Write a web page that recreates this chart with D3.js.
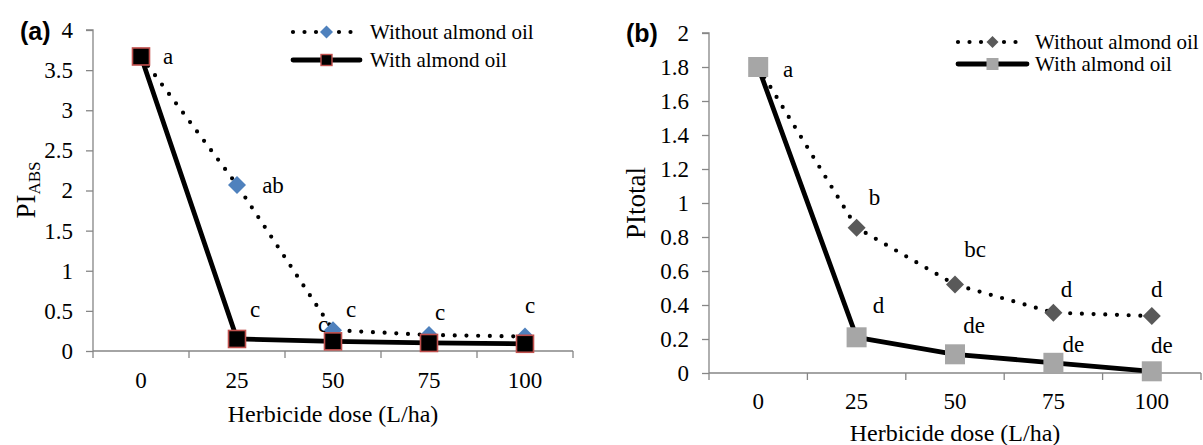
<!DOCTYPE html>
<html>
<head>
<meta charset="utf-8">
<title>PI charts</title>
<script src="https://d3js.org/d3.v7.min.js"></script>
<style>
    body { margin: 0; background: #fff; }
    text { font-family: "Liberation Serif", "Times New Roman", serif; fill: #000; }
    .panel-tag { font-family: "Liberation Sans", Arial, sans-serif; font-weight: bold; }
</style>
</head>
<body>
<div id="chart"></div>
<script>
// data
var doses = ["0", "25", "50", "75", "100"];
var seriesNames = ["Without almond oil", "With almond oil"];

var piAbsWithout = [3.67, 2.07, 0.26, 0.20, 0.18];
var piAbsWith = [3.67, 0.15, 0.12, 0.10, 0.09];
var lettersAbsWithout = ["", "ab", "c", "c", "c"];
var lettersAbsWith = ["a", "c", "c", "", ""];
var yTicksAbs = [0, 0.5, 1, 1.5, 2, 2.5, 3, 3.5, 4];

var piTotalWithout = [1.8, 0.855, 0.52, 0.355, 0.335];
var piTotalWith = [1.8, 0.21, 0.11, 0.06, 0.01];
var lettersTotalWithout = ["", "b", "bc", "d", "d"];
var lettersTotalWith = ["a", "d", "de", "de", "de"];
var yTicksTotal = [0, 0.2, 0.4, 0.6, 0.8, 1, 1.2, 1.4, 1.6, 1.8, 2];

var svg = d3.select("#chart").append("svg")
    .attr("width", 1203)
    .attr("height", 445);

var axisColor = "#868686";
var serif = "Liberation Serif";

function diamond(r) {
    return "M0," + (-r) + "L" + r + ",0L0," + r + "L" + (-r) + ",0Z";
}

function drawPanel(p) {
    var g = svg.append("g");

    var x = d3.scaleBand().domain(doses).range(p.xRange);
    var y = d3.scaleLinear().domain(p.yDomain).range(p.yRange);
    var cx = function(i) { return x(doses[i]) + x.bandwidth() / 2; };

    // y axis
    var yAxis = g.append("g")
        .attr("transform", "translate(" + p.xRange[0] + ",0)")
        .call(d3.axisLeft(y).tickValues(p.yTicks).tickSize(7).tickPadding(13)
            .tickFormat(d3.format("~g")));
    yAxis.attr("font-family", serif).attr("font-size", 23);
    yAxis.select(".domain").attr("stroke", axisColor).attr("stroke-width", 1.3)
        .attr("d", "M0," + y(p.yDomain[0]) + "V" + y(p.yDomain[1]) + "H-7");
    yAxis.selectAll(".tick line").attr("stroke", axisColor).attr("stroke-width", 1.3);

    // x axis: line + ticks between categories
    var y0 = y(0);
    g.append("line")
        .attr("x1", p.xRange[0]).attr("x2", p.xRange[1])
        .attr("y1", y0).attr("y2", y0)
        .attr("stroke", axisColor).attr("stroke-width", 1.3);
    var bounds = doses.map(function(d) { return x(d); }).concat([p.xRange[1]]);
    g.selectAll(".xtick").data(bounds).enter().append("line")
        .attr("x1", function(d) { return d; }).attr("x2", function(d) { return d; })
        .attr("y1", y0).attr("y2", y0 + 7)
        .attr("stroke", axisColor).attr("stroke-width", 1.3);
    g.selectAll(".xlab").data(doses).enter().append("text")
        .attr("x", function(d, i) { return cx(i); })
        .attr("y", p.xLabelY)
        .attr("text-anchor", "middle")
        .style("font-size", "23px")
        .text(function(d) { return d; });

    // axis titles
    g.append("text")
        .attr("x", (p.xRange[0] + p.xRange[1]) / 2)
        .attr("y", p.xTitleY)
        .attr("text-anchor", "middle")
        .style("font-size", "24px")
        .text("Herbicide dose (L/ha)");

    var yt = g.append("text")
        .attr("transform", "translate(" + p.yTitlePos[0] + "," + p.yTitlePos[1] + ") rotate(-90)")
        .attr("text-anchor", "middle")
        .style("font-size", "27px");
    yt.append("tspan").text(p.yTitle[0]);
    if (p.yTitle[1]) {
        yt.append("tspan").attr("dy", 5).style("font-size", "17px").text(p.yTitle[1]);
    }

    g.append("text").attr("class", "panel-tag")
        .attr("x", p.tagPos[0]).attr("y", p.tagPos[1])
        .style("font-size", "25px")
        .text(p.tag);

    var line = d3.line()
        .x(function(d, i) { return cx(i); })
        .y(function(d) { return y(d); });

    // significance letters, drawn under the markers
    function letters(vals, labs, offs) {
        labs.forEach(function(t, i) {
            if (!t) return;
            g.append("text")
                .attr("x", cx(i) + offs[i][0])
                .attr("y", y(vals[i]) + offs[i][1])
                .attr("text-anchor", "middle")
                .style("font-size", "23px")
                .text(t);
        });
    }
    letters(p.without, p.lettersWithout, p.offWithout);
    letters(p.withOil, p.lettersWith, p.offWith);

    // without series: dotted line + diamonds
    g.append("path").datum(p.without)
        .attr("d", line)
        .attr("fill", "none").attr("stroke", "#000")
        .attr("stroke-width", 4.2).attr("stroke-linecap", "round")
        .attr("stroke-dasharray", "0 11.7");
    g.selectAll(".dia").data(p.without).enter().append("path")
        .attr("transform", function(d, i) { return "translate(" + cx(i) + "," + y(d) + ")"; })
        .attr("d", diamond(p.diaR))
        .attr("fill", p.diaColor);

    // with series: solid line + squares
    g.append("path").datum(p.withOil)
        .attr("d", line)
        .attr("fill", "none").attr("stroke", "#000")
        .attr("stroke-width", 4.8).attr("stroke-linejoin", "round");
    g.selectAll(".sq").data(p.withOil).enter().append("rect")
        .attr("x", function(d, i) { return cx(i) - p.sqSize / 2; })
        .attr("y", function(d) { return y(d) - p.sqSize / 2; })
        .attr("width", p.sqSize).attr("height", p.sqSize)
        .attr("fill", p.sqFill)
        .attr("stroke", p.sqStroke || "none").attr("stroke-width", 1.6);

    // legend
    var lg = g.append("g");
    var lx0 = p.legend.x0, lx1 = p.legend.x1, lm = (lx0 + lx1) / 2;
    var r0 = p.legend.rows[0], r1 = p.legend.rows[1];
    lg.append("line").attr("x1", lx0).attr("x2", lx1).attr("y1", r0).attr("y2", r0)
        .attr("stroke", "#000").attr("stroke-width", 4.2).attr("stroke-linecap", "round")
        .attr("stroke-dasharray", "0 11.5");
    lg.append("path").attr("transform", "translate(" + lm + "," + r0 + ")")
        .attr("d", diamond(p.legend.diaR)).attr("fill", p.diaColor);
    lg.append("line").attr("x1", lx0).attr("x2", lx1).attr("y1", r1).attr("y2", r1)
        .attr("stroke", "#000").attr("stroke-width", 4.8).attr("stroke-linecap", "round");
    lg.append("rect").attr("x", lm - p.legend.sq / 2).attr("y", r1 - p.legend.sq / 2)
        .attr("width", p.legend.sq).attr("height", p.legend.sq)
        .attr("fill", p.sqFill).attr("stroke", p.sqStroke || "none").attr("stroke-width", 1.4);
    lg.selectAll(".lt").data(seriesNames).enter().append("text")
        .attr("x", p.legend.tx)
        .attr("y", function(d, i) { return p.legend.rows[i] + 7; })
        .style("font-size", "21px")
        .text(function(d) { return d; });
}

drawPanel({
    tag: "(a)", tagPos: [20, 40],
    xRange: [93, 573], yRange: [351, 30], yDomain: [0, 4], yTicks: yTicksAbs,
    xLabelY: 388, xTitleY: 422,
    yTitle: ["PI", "ABS"], yTitlePos: [35, 190],
    without: piAbsWithout, withOil: piAbsWith,
    lettersWithout: lettersAbsWithout, lettersWith: lettersAbsWith,
    offWithout: [null, [36, 8], [-10, 2], [11, -15], [5, -24]],
    offWith: [[27, 7.5], [18, -22], [18, -24], null, null],
    diaR: 9, diaColor: "#4f81bd",
    sqSize: 17, sqFill: "#000", sqStroke: "#c0504d",
    legend: { x0: 293, x1: 360, rows: [32, 60], tx: 370, diaR: 6.5, sq: 11 }
});

drawPanel({
    tag: "(b)", tagPos: [626, 42],
    xRange: [709, 1201], yRange: [373, 33], yDomain: [0, 2], yTicks: yTicksTotal,
    xLabelY: 409, xTitleY: 441,
    yTitle: ["PItotal"], yTitlePos: [645, 203],
    without: piTotalWithout, withOil: piTotalWith,
    lettersWithout: lettersTotalWithout, lettersWith: lettersTotalWith,
    offWithout: [null, [18, -23], [20, -28], [13, -16], [5, -19]],
    offWith: [[30, 10], [22, -24], [19, -21], [20, -11], [10, -18]],
    diaR: 9, diaColor: "#595959",
    sqSize: 20, sqFill: "#a6a6a6",
    legend: { x0: 958, x1: 1027, rows: [42, 64], tx: 1035, diaR: 6, sq: 12 }
});
</script>
</body>
</html>
